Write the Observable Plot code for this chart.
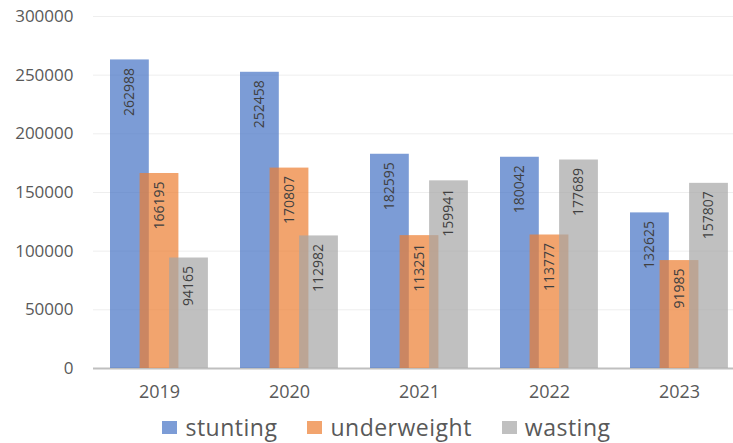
<!DOCTYPE html>
<html>
<head>
<meta charset="utf-8">
<script src="https://cdn.jsdelivr.net/npm/d3@7"></script>
<script src="https://cdn.jsdelivr.net/npm/@observablehq/plot@0.6"></script>
<style>
  html, body { margin: 0; padding: 0; background: #fff; overflow: hidden; }
  #chart { width: 733px; font-family: "Open Sans", sans-serif; }
  .legend { display: flex; justify-content: center; align-items: center; height: 38px; padding-top: 3px; color: #595959; font-size: 23px; letter-spacing: 0.5px; padding-left: 40px; }
  .legend .item { display: flex; align-items: center; margin: 0 15px; }
  .legend .sw { width: 15px; height: 13px; margin-right: 8px; opacity: 0.7; }
</style>
</head>
<body>
<div id="chart"></div>
<script>
// Yearly counts per malnutrition indicator
const years = ["2019", "2020", "2021", "2022", "2023"];
const stunting = [262988, 252458, 182595, 180042, 132625];
const underweight = [166195, 170807, 113251, 113777, 91985];
const wasting = [94165, 112982, 159941, 177689, 157807];
const seriesNames = ["stunting", "underweight", "wasting"];
const seriesColors = ["#4472C4", "#ED7D31", "#A5A5A5"];
const yTicks = [0, 50000, 100000, 150000, 200000, 250000, 300000];

const seriesValues = [stunting, underweight, wasting];
const rows = seriesNames.map((name, k) =>
  years.map((year, i) => ({year, series: name, value: seriesValues[k][i]}))
);

// Each series is shifted within its year slot so neighbouring bars overlap a little
const shift = [-29.6, 0, 29.5];
const inset = 45.6;

const marks = [
  Plot.ruleY(yTicks.slice(1), {stroke: "#eeeeee", strokeWidth: 1}),
  Plot.axisY({ticks: yTicks, tickSize: 0, tickPadding: 20, tickFormat: d => String(d), fontSize: 17, fill: "#595959", label: null}),
  Plot.axisX({tickSize: 0, tickPadding: 17, fontSize: 18, fill: "#595959", label: null}),
  Plot.ruleY([0], {stroke: "#bfbfbf", strokeWidth: 2})
];
rows.forEach((data, k) => {
  marks.push(Plot.barY(data, {
    x: "year", y: "value", fill: "series", fillOpacity: 0.7,
    dx: shift[k], insetLeft: inset, insetRight: inset
  }));
});
rows.forEach((data, k) => {
  marks.push(Plot.text(data, {
    x: "year", y: "value", text: d => String(d.value),
    rotate: -90, textAnchor: "end", dx: shift[k], dy: 8,
    fontSize: 14, fill: "#404040"
  }));
});

const plot = Plot.plot({
  width: 733,
  height: 405,
  marginLeft: 93,
  marginRight: 0,
  marginTop: 16,
  marginBottom: 37,
  style: {fontFamily: "Open Sans, sans-serif", background: "#fff", color: "#595959"},
  x: {domain: years, range: [93, 744], padding: 0, label: null},
  y: {domain: [0, 300000], label: null},
  color: {domain: seriesNames, range: seriesColors},
  marks
});

const chart = document.getElementById("chart");
chart.appendChild(plot);

const legend = document.createElement("div");
legend.className = "legend";
seriesNames.forEach((name, k) => {
  const item = document.createElement("div");
  item.className = "item";
  const sw = document.createElement("span");
  sw.className = "sw";
  sw.style.background = plot.scale("color").apply(name);
  const label = document.createElement("span");
  label.textContent = name;
  item.appendChild(sw);
  item.appendChild(label);
  legend.appendChild(item);
});
chart.appendChild(legend);
</script>
</body>
</html>
